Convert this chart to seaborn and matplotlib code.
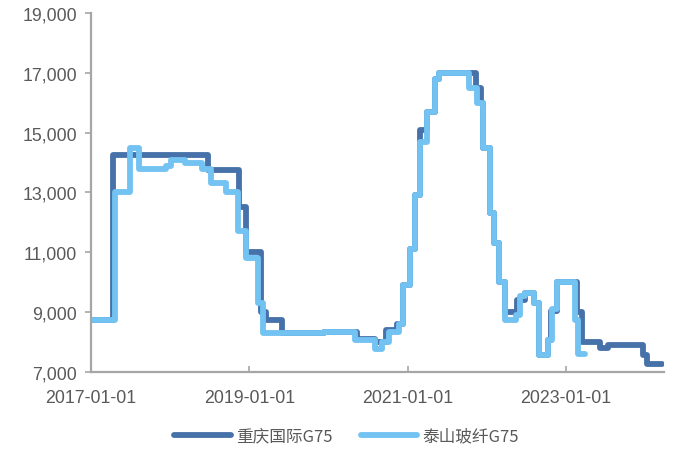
import matplotlib
matplotlib.use("Agg")
import matplotlib.pyplot as plt
import matplotlib.dates as mdates
from matplotlib.ticker import FuncFormatter
import pandas as pd
import seaborn as sns

# 重庆国际G75 price steps (date of change, price)
cq_dates = [
    "2017-01-01", "2017-04-12", "2018-06-23", "2018-11-17", "2018-12-19",
    "2019-02-26", "2019-03-20", "2019-06-03", "2019-12-10", "2020-05-10",
    "2020-08-05", "2020-09-25", "2020-11-15", "2020-12-10", "2021-01-12",
    "2021-02-05", "2021-03-01", "2021-04-01", "2021-05-05", "2021-05-25",
    "2021-11-13", "2021-12-05", "2021-12-16", "2022-01-14", "2022-02-01",
    "2022-02-25", "2022-03-28", "2022-05-22", "2022-06-28", "2022-08-08",
    "2022-09-01", "2022-10-09", "2022-10-25", "2022-11-23", "2023-02-19",
    "2023-03-14", "2023-06-06", "2023-07-13", "2023-12-22", "2024-01-08",
    "2024-03-20",
]
cq_values = [
    8750, 14250, 13750, 12500, 11000,
    9000, 8750, 8300, 8350, 8100,
    8000, 8400, 8600, 9900, 11100,
    12900, 15100, 15700, 16800, 17000,
    16500, 16000, 14500, 12300, 11300,
    10000, 9000, 9400, 9650, 9300,
    7550, 8050, 9050, 10000, 9000,
    8000, 7800, 7900, 7550, 7250,
    7250,
]

# 泰山玻纤G75 price steps (date of change, price)
ts_dates = [
    "2017-01-01", "2017-04-23", "2017-07-01", "2017-08-10", "2017-12-12",
    "2018-01-07", "2018-03-10", "2018-05-26", "2018-07-10", "2018-09-16",
    "2018-11-09", "2018-12-19", "2019-02-09", "2019-03-04", "2019-12-10",
    "2020-05-05", "2020-08-05", "2020-09-05", "2020-10-05", "2020-11-20",
    "2020-12-10", "2021-01-12", "2021-02-05", "2021-03-01", "2021-04-01",
    "2021-05-05", "2021-05-25", "2021-10-13", "2021-11-19", "2021-12-16",
    "2022-01-14", "2022-02-01", "2022-02-25", "2022-03-28", "2022-05-17",
    "2022-06-01", "2022-06-28", "2022-08-08", "2022-09-01", "2022-10-09",
    "2022-10-31", "2022-11-23", "2023-02-10", "2023-02-26", "2023-03-28",
]
ts_values = [
    8750, 13000, 14500, 13800, 13900,
    14100, 14000, 13800, 13300, 13000,
    11700, 10800, 9300, 8300, 8350,
    8050, 7750, 8000, 8350, 8600,
    9900, 11100, 12900, 14700, 15700,
    16800, 17000, 16500, 16000, 14500,
    12300, 11300, 10000, 8750, 8900,
    9550, 9650, 9300, 7550, 8050,
    9100, 10000, 8750, 7600, 7600,
]

series_names = ["重庆国际G75", "泰山玻纤G75"]
series_colors = ["#4672A9", "#72C2F2"]
y_ticks = [7000, 9000, 11000, 13000, 15000, 17000, 19000]
x_ticks = ["2017-01-01", "2019-01-01", "2021-01-01", "2023-01-01"]

df = pd.concat([
    pd.DataFrame({"date": pd.to_datetime(cq_dates), "price": cq_values, "name": series_names[0]}),
    pd.DataFrame({"date": pd.to_datetime(ts_dates), "price": ts_values, "name": series_names[1]}),
], ignore_index=True)

sns.set_theme(style="white")
plt.rcParams["font.family"] = ["Liberation Sans", "Noto Sans CJK SC", "DejaVu Sans"]

fig = plt.figure(figsize=(6.74, 4.52), dpi=100)
ax = fig.add_axes([0.135, 0.175, 0.85, 0.794])

sns.lineplot(
    data=df, x="date", y="price", hue="name", hue_order=series_names,
    palette=series_colors, estimator=None, sort=True, ax=ax,
    drawstyle="steps-post", linewidth=4.2, legend=True,
)

ax.set_xlim(pd.Timestamp("2017-01-01"), pd.Timestamp("2024-03-28"))
ax.set_ylim(7000, 19000)
ax.set_yticks(y_ticks)
ax.yaxis.set_major_formatter(FuncFormatter(lambda v, _: f"{int(v):,}"))
ax.set_xticks(pd.to_datetime(x_ticks))
ax.xaxis.set_major_formatter(mdates.DateFormatter("%Y-%m-%d"))
ax.set_xlabel("")
ax.set_ylabel("")

grey = "#A6A6A6"
for side in ["top", "right"]:
    ax.spines[side].set_visible(False)
for side in ["left", "bottom"]:
    ax.spines[side].set_color(grey)
    ax.spines[side].set_linewidth(1.6)
ax.tick_params(axis="y", direction="out", length=4, width=1.2, color=grey,
               labelsize=12.8, labelcolor="#595959", pad=6, left=True)
ax.tick_params(axis="x", direction="in", length=4, width=1.2, color=grey,
               labelsize=12.8, labelcolor="#595959", pad=12, bottom=True)

handles, labels = ax.get_legend_handles_labels()
ax.get_legend().remove()
fig.legend(
    handles, labels, loc="center", bbox_to_anchor=(0.514, 0.033), ncol=2,
    frameon=False, handlelength=3.4, handletextpad=0.3, columnspacing=1.7,
    prop={"family": ["Noto Sans CJK SC", "DejaVu Sans"], "size": 12},
    labelcolor="#595959",
)
for line in fig.legends[0].get_lines():
    line.set_linewidth(4.2)

fig.savefig("out.png", dpi=100)
